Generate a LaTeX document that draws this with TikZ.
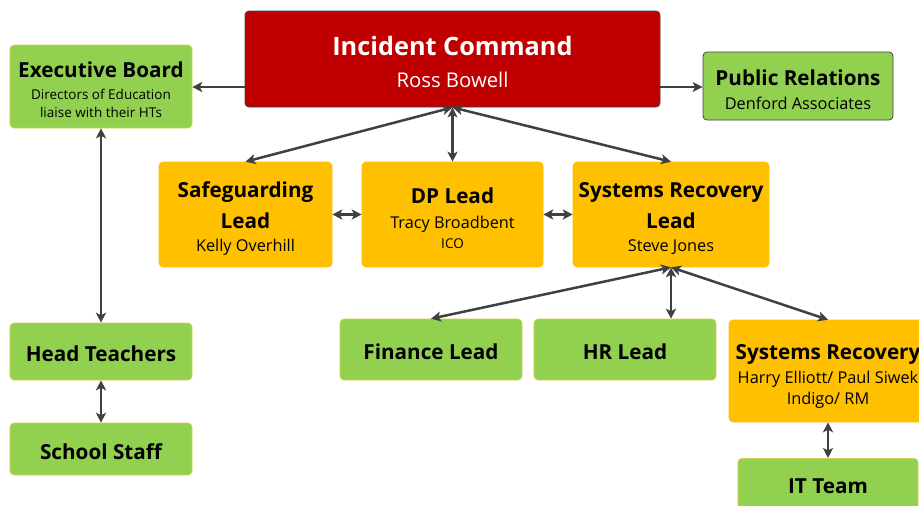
\documentclass[tikz,border=0pt]{standalone}
\usepackage{fontspec}
\setmainfont{Open Sans}
\usetikzlibrary{arrows.meta}
\definecolor{icred}{HTML}{C00000}
\definecolor{lgreen}{HTML}{92D050}
\definecolor{lorange}{HTML}{FFC000}
\definecolor{arrgray}{HTML}{404040}
\definecolor{faintedge}{HTML}{E6C84A}
\tikzset{
  box/.style={rectangle, rounded corners=4pt, align=center, inner sep=0pt, text=black},
  redbox/.style={box, fill=icred, draw=arrgray, line width=0.8pt, text=white},
  greenbox/.style={box, fill=lgreen, draw=faintedge, line width=0.6pt},
  greenboxd/.style={box, fill=lgreen, draw=arrgray, line width=0.8pt},
  orangebox/.style={box, fill=lorange, draw=lorange, line width=0.6pt},
  conn/.style={draw=arrgray, line width=2.5pt, -{Stealth[length=10pt,width=10pt,inset=2.5pt]}},
  dconn/.style={draw=arrgray, line width=2.5pt, {Stealth[length=10pt,width=10pt,inset=2.5pt]}-{Stealth[length=10pt,width=10pt,inset=2.5pt]}},
  bs/.style={font=\fontsize{12}{#1}\selectfont},
}
\newcommand{\hdf}{\fontsize{20.7}{20.7}\selectfont\bfseries}
\newcommand{\sbf}{\fontsize{16.3}{16.3}\selectfont}
\newcommand{\smf}{\fontsize{13.5}{13.5}\selectfont}
\newcommand{\up}[1]{\rule{0pt}{#1}}
\begin{document}
\begin{tikzpicture}[x=1pt,y=-1pt]
\useasboundingbox (0,0) rectangle (919,506);
\clip (0,0) rectangle (919,506);
\fill[white] (0,0) rectangle (919,506);
% nodes
\node[redbox, bs=32pt, minimum width=415pt, minimum height=96pt] (ic) at (452.5,59)
  {\up{25pt}{\fontsize{25.3}{25}\selectfont\bfseries Incident Command}\\{\fontsize{20.3}{20}\selectfont Ross Bowell}};
\node[greenbox, bs=20pt, minimum width=182pt, minimum height=83pt] (eb) at (101,86.5)
  {\up{21.7pt}{\hdf Executive Board}\\[2pt]{\smf Directors of Education}\\[-2pt]{\smf liaise with their HTs}};
\node[greenboxd, bs=24pt, minimum width=190pt, minimum height=68pt] (pr) at (798,86)
  {\up{23.5pt}{\hdf Public Relations}\\{\sbf Denford Associates}};
\node[orangebox, bs=27pt, minimum width=173pt, minimum height=105pt] (sg) at (245.5,214.5)
  {\up{23.5pt}{\hdf Safeguarding}\\[4pt]{\hdf Lead}\\[-4pt]{\sbf Kelly Overhill}};
\node[orangebox, bs=22.5pt, minimum width=181pt, minimum height=105pt] (dp) at (452.5,214.5)
  {\up{23.5pt}{\hdf DP Lead}\\[2.5pt]{\sbf Tracy Broadbent}\\[-2.5pt]{\smf ICO}};
\node[orangebox, bs=27pt, minimum width=196pt, minimum height=105pt] (srl) at (671,214.5)
  {\up{23.5pt}{\hdf Systems Recovery}\\[4pt]{\hdf Lead}\\[-4pt]{\sbf Steve Jones}};
\node[greenbox, minimum width=182pt, minimum height=57pt] (ht) at (101,351.5)
  {\up{19.7pt}\hdf Head Teachers};
\node[greenbox, minimum width=182pt, minimum height=52pt] (ss) at (101,449)
  {\up{20.7pt}\hdf School Staff};
\node[greenbox, minimum width=182pt, minimum height=61pt] (fl) at (431,349.5)
  {\up{20.2pt}\hdf Finance Lead};
\node[greenbox, minimum width=182pt, minimum height=61pt] (hr) at (625,349.5)
  {\up{20.2pt}\hdf HR Lead};
\node[orangebox, bs=22.5pt, minimum width=198pt, minimum height=102pt] (sr) at (828,371)
  {\up{25.7pt}{\hdf Systems Recovery}\\[1.5pt]{\sbf Harry Elliott/ Paul Siwek}\\[-1.5pt]{\sbf Indigo/ RM}};
\node[greenbox, minimum width=180pt, minimum height=62pt, anchor=north] (it) at (828,458)
  {\hdf IT Team\rule[-6pt]{0pt}{1pt}};
% connectors
\draw[conn] (ic.west |- 0,87) -- (eb.east |- 0,87);
\draw[conn] (ic.east |- 0,87) -- (pr.west |- 0,87);
\draw[dconn] (eb.south) -- (ht.north);
\draw[dconn] (ht.south) -- (ss.north);
\draw[dconn] (ic.south) -- (dp.north);
\draw[dconn] (ic.south) -- (sg.north);
\draw[dconn] (ic.south) -- (srl.north);
\draw[dconn] (sg.east) -- (dp.west);
\draw[dconn] (dp.east) -- (srl.west);
\draw[dconn] (srl.south) -- (fl.north);
\draw[dconn] (srl.south) -- (srl.south |- hr.north);
\draw[dconn] (srl.south) -- (sr.north);
\draw[dconn] (sr.south) -- (it.north);
\end{tikzpicture}
\end{document}
